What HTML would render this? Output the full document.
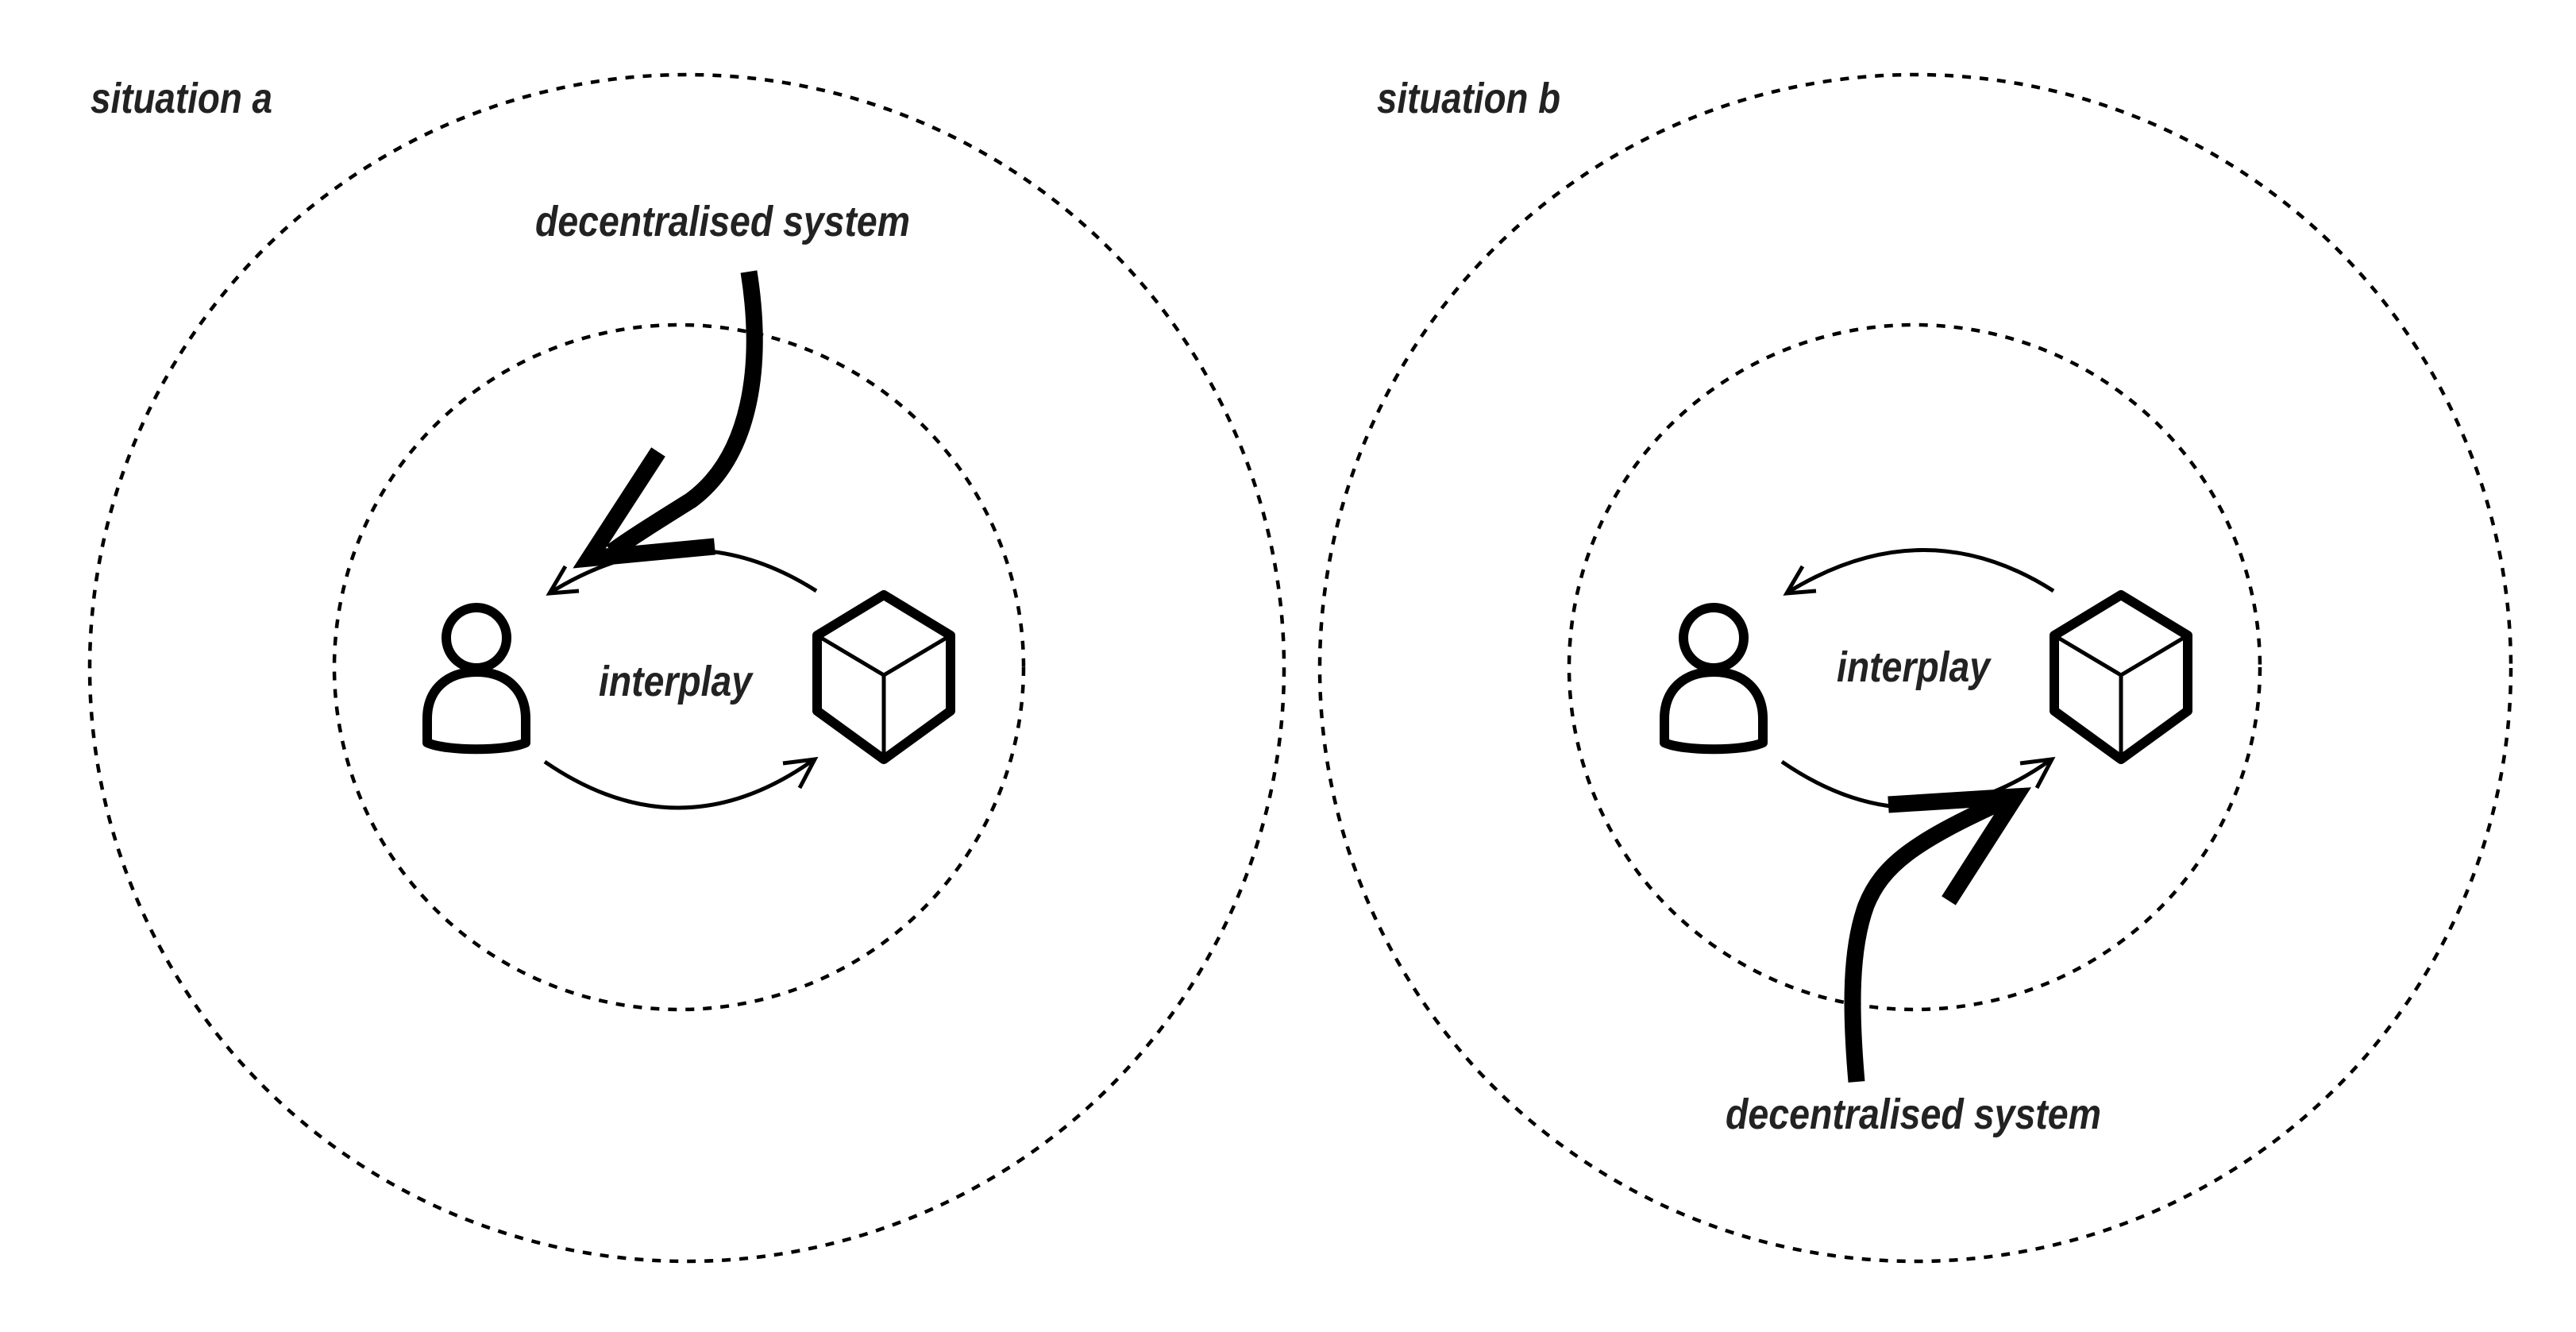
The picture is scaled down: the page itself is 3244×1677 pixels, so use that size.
<!DOCTYPE html>
<html><head><meta charset="utf-8"><style>
html,body{margin:0;padding:0;background:#fff;}
svg{display:block;}
text{font-family:"Liberation Sans",sans-serif;font-weight:bold;font-style:italic;fill:#222;}
</style></head><body>
<svg width="3244" height="1677" viewBox="0 0 3244 1677" xmlns="http://www.w3.org/2000/svg">
<g fill="none" stroke="#000" stroke-width="4.5" stroke-dasharray="11 11">
<ellipse cx="865" cy="841" rx="752" ry="747"/>
<ellipse cx="855" cy="840" rx="434" ry="431"/>
<ellipse cx="2412" cy="841" rx="750" ry="747"/>
<ellipse cx="2411" cy="840" rx="435" ry="431"/>
</g>
<text x="114" y="142" font-size="54" textLength="229" lengthAdjust="spacingAndGlyphs">situation a</text>
<text x="1734" y="142" font-size="54" textLength="231" lengthAdjust="spacingAndGlyphs">situation b</text>
<text x="674" y="297" font-size="54" textLength="472" lengthAdjust="spacingAndGlyphs">decentralised system</text>
<text x="2173" y="1421" font-size="54" textLength="473" lengthAdjust="spacingAndGlyphs">decentralised system</text>
<text x="754" y="876" font-size="54" textLength="193" lengthAdjust="spacingAndGlyphs">interplay</text>
<text x="2313" y="858" font-size="54" textLength="193" lengthAdjust="spacingAndGlyphs">interplay</text>

<g id="grp">
<g fill="none" stroke="#000" stroke-width="12" stroke-linejoin="round">
<circle cx="600" cy="803" r="38"/>
<path d="M538,935 L538,905 C538,868 563,846 600,846 C637,846 662,868 662,905 L662,935 C638,946 562,946 538,935 Z"/>
</g>
<g fill="none" stroke="#000" stroke-linejoin="round">
<polygon stroke-width="12" points="1113,749 1197,800 1197,895 1113,956 1029,895 1029,800"/>
<polyline stroke-width="5" points="1029,800 1113,850 1197,800"/>
<line stroke-width="5" x1="1113" y1="850" x2="1113" y2="956"/>
</g>
</g>
<use href="#grp" transform="translate(1558,0)"/>

<g fill="none" stroke="#000" stroke-width="5">
<path d="M1028,744 Q865,640 693,746"/>
<polyline points="712,713 692,747 729,744"/>
<path d="M686,959 Q856,1076 1024,957"/>
<polyline points="986,961 1026,956 1007,992"/>
<path d="M2586,744 Q2423,640 2251,746"/>
<polyline points="2270,713 2250,747 2287,744"/>
<path d="M2244,959 Q2414,1076 2582,957"/>
<polyline points="2544,961 2584,956 2565,992"/>
</g>
<g fill="none" stroke="#000" stroke-width="21">
<path d="M943,342 C962,462 945,575 870,630 C830,655 790,680 770,695"/>
<polyline stroke-linejoin="miter" stroke-miterlimit="10" points="829,569 742,703 900,688"/>
<path d="M2338,1362 C2330,1270 2330,1195 2350,1140 C2370,1090 2410,1060 2520,1010"/>
<polyline stroke-linejoin="miter" stroke-miterlimit="10" points="2454,1134 2538,1003 2378,1013"/>
</g>
</svg>
</body></html>
